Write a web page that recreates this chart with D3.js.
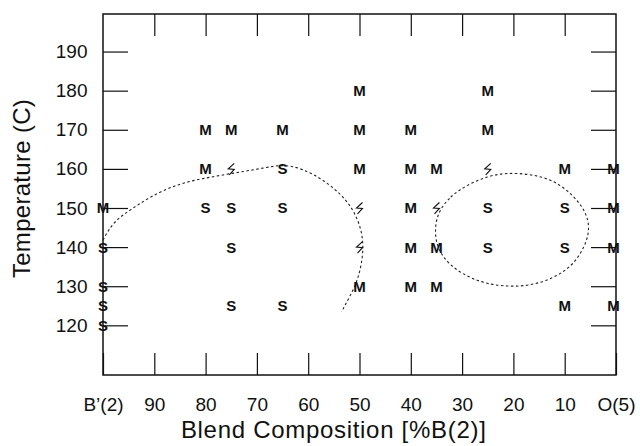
<!DOCTYPE html>
<html><head><meta charset="utf-8">
<script src="https://cdn.jsdelivr.net/npm/d3@7"></script>
<style>
body{margin:0;background:#fff}
svg{display:block}
text{font-family:"Liberation Sans",Arial,Helvetica,sans-serif;fill:#111}
</style></head>
<body><svg id="chart" width="640" height="446"></svg>
<script>
// ---- data ----
const xTicks = [100, 90, 80, 70, 60, 50, 40, 30, 20, 10, 0];
const xLabels = ["B’(2)", "90", "80", "70", "60", "50", "40", "30", "20", "10", "O(5)"];
const yTicks = [120, 130, 140, 150, 160, 170, 180, 190];

// [composition %B(2), temperature C]
const mPoints = [
  [50,180],[25,180],
  [80,170],[75,170],[65,170],[50,170],[40,170],[25,170],
  [80,160],[50,160],[40,160],[35,160],[10,160],[0.5,160],
  [100,150],[40,150],[0.5,150],
  [40,140],[35,140],[0.5,140],
  [50,130],[40,130],[35,130],
  [10,125],[0.5,125]
];
const sPoints = [
  [65,160],
  [80,150],[75,150],[65,150],[25,150],[10,150],
  [100,140],[75,140],[25,140],[10,140],
  [100,130],
  [100,125],[75,125],[65,125],
  [100,120]
];
const boundaryPoints = [[75,160],[25,160],[50,150],[35,150],[50,140]];

const curveLeft = [
  [100,141.8],[98.0,146.5],[94.7,149.5],[90.8,152.9],[85.6,156.1],[80.4,157.6],
  [74.6,158.9],[70.0,159.9],[66.5,160.8],[63.5,161.0],[59.0,158.9],[54.4,154.6],
  [51.2,149.9],[49.3,143.5],[49.3,137.5],[50.3,131.6],[51.9,127.3],[53.5,123.5]
];
const curveRight = [
  [34.6,149.1],[32.4,152.9],[29.1,155.9],[24.9,158.2],[21.3,159.0],[16.8,158.7],
  [12.2,157.2],[8.3,153.3],[5.7,148.7],[5.1,144.4],[6.1,140.1],[8.3,135.4],
  [12.2,132.0],[16.8,130.1],[21.3,129.9],[25.8,130.7],[30.4,133.3],[33.7,137.1],
  [35.1,141.0],[35.3,145.2]
];

// ---- layout ----
const W = 640, H = 446;
const margin = {left:103, right:24, top:14, bottom:71};
const svg = d3.select("#chart");
const x = d3.scaleLinear().domain([100, 0]).range([margin.left, W - margin.right]);
const y = d3.scaleLinear().domain([107.3, 199.6]).range([H - margin.bottom, margin.top]);
const x0 = x.range()[0], x1 = x.range()[1], yb = y.range()[0], yt = y.range()[1];

// axes (ticks inward)
const gB = svg.append("g").attr("transform", `translate(0,${yb})`)
  .call(d3.axisBottom(x).tickValues(xTicks).tickFormat((d,i)=>xLabels[i])
    .tickSize(-22).tickSizeOuter(0).tickPadding(23));
const gT = svg.append("g").attr("transform", `translate(0,${yt})`)
  .call(d3.axisTop(x).tickValues(xTicks.slice(1,-1)).tickFormat("")
    .tickSize(-22).tickSizeOuter(0));
const gL = svg.append("g").attr("transform", `translate(${x0},0)`)
  .call(d3.axisLeft(y).tickValues(yTicks).tickSize(-25).tickSizeOuter(0).tickPadding(15.5));
const gR = svg.append("g").attr("transform", `translate(${x1},0)`)
  .call(d3.axisRight(y).tickValues(yTicks).tickFormat("").tickSize(-25).tickSizeOuter(0));

[gB,gT,gL,gR].forEach(g=>{
  g.select(".domain").remove();
  g.attr("font-family", null).attr("font-size", 19);
  g.selectAll(".tick line").attr("stroke", "#111").attr("stroke-width", 1.2);
  g.selectAll(".tick text").attr("fill", "#111");
});

// frame
svg.append("rect").attr("x", x0).attr("y", yt).attr("width", x1 - x0).attr("height", yb - yt)
  .attr("fill", "none").attr("stroke", "#111").attr("stroke-width", 1.5);

// boundary curves
const line = d3.line().x(d=>x(d[0])).y(d=>y(d[1]));
svg.append("path").datum(curveLeft)
  .attr("d", line.curve(d3.curveBasis))
  .attr("fill", "none").attr("stroke", "#222").attr("stroke-width", 1.1).attr("stroke-dasharray", "2.5,2.5");
svg.append("path").datum(curveRight)
  .attr("d", line.curve(d3.curveBasisClosed))
  .attr("fill", "none").attr("stroke", "#222").attr("stroke-width", 1.1).attr("stroke-dasharray", "2.5,2.5");

// markers
const marks = svg.append("g").attr("font-size", 15).attr("font-weight", "bold").attr("text-anchor", "middle");
marks.selectAll("text.m").data(mPoints).join("text").attr("class","m")
  .attr("x", d=>x(d[0])).attr("y", d=>y(d[1])).attr("dy", "0.36em").text("M");
marks.selectAll("text.s").data(sPoints).join("text").attr("class","s")
  .attr("x", d=>x(d[0])).attr("y", d=>y(d[1])).attr("dy", "0.36em").text("S");

const zig = {draw(ctx, size){ const s = Math.sqrt(size)/10;
  ctx.moveTo(3*s,-5.5*s); ctx.lineTo(-3*s,0); ctx.lineTo(3*s,0.5*s); ctx.lineTo(-2*s,6*s); }};
svg.append("g").selectAll("path").data(boundaryPoints).join("path")
  .attr("transform", d=>`translate(${x(d[0])},${y(d[1])})`)
  .attr("d", d3.symbol(zig, 100))
  .attr("fill", "none").attr("stroke", "#111").attr("stroke-width", 1.1);

// titles
svg.append("text").attr("x", 333.7).attr("y", 438.3).attr("text-anchor", "middle")
  .attr("font-size", 24).attr("letter-spacing", 0.7).text("Blend Composition [%B(2)]");
svg.append("text").attr("transform", "translate(30,188.5) rotate(-90)").attr("text-anchor", "middle")
  .attr("font-size", 24).attr("letter-spacing", 0.3).text("Temperature (C)");
</script></body></html>
